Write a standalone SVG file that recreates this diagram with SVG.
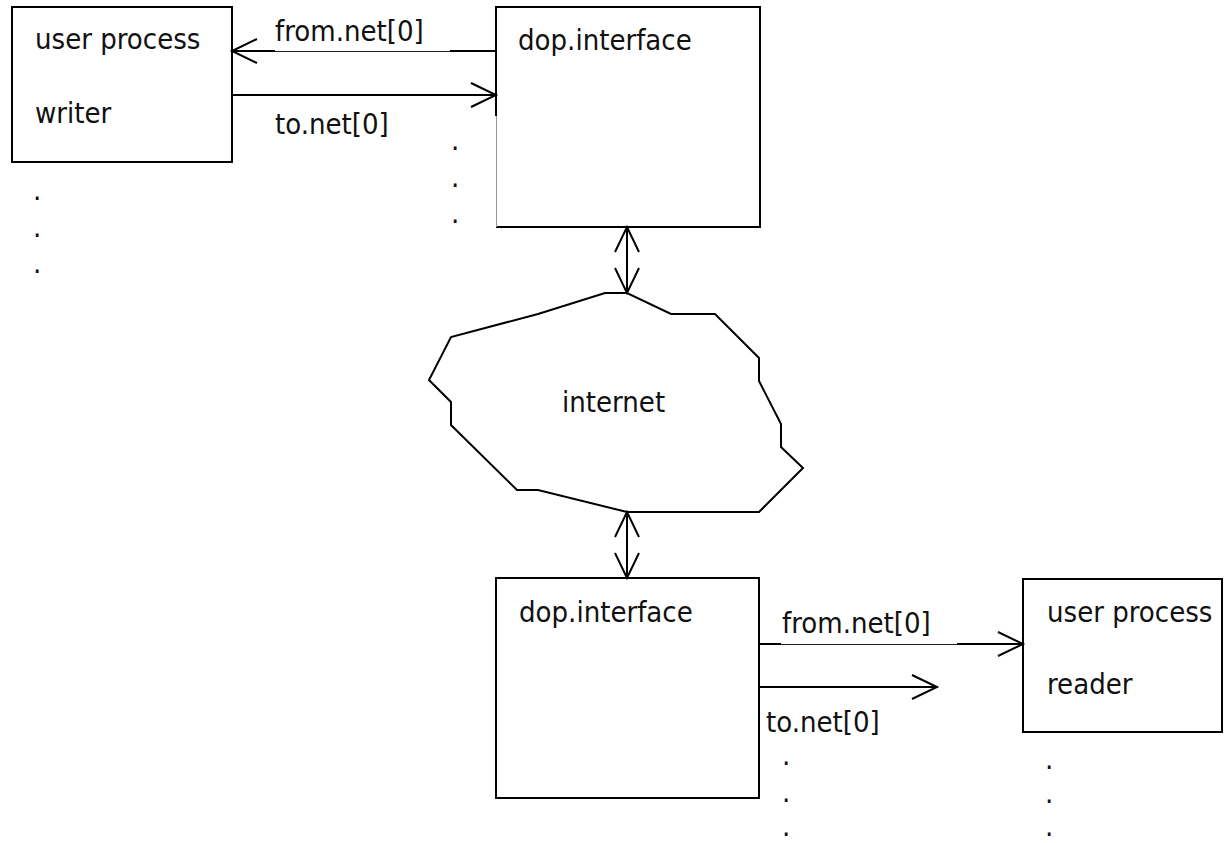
<svg xmlns="http://www.w3.org/2000/svg" width="1227" height="843" viewBox="0 0 1227 843">
<style>
text{font-family:"DejaVu Sans Condensed","DejaVu Sans",sans-serif;font-stretch:condensed;font-size:29px;fill:#111}
.box{fill:#fff;stroke:#000;stroke-width:2}
.ln{fill:none;stroke:#000;stroke-width:2}
.thin{fill:none;stroke:#222;stroke-width:1}
.dot{font-size:29px}
</style>
<rect width="1227" height="843" fill="#fff"/>
<g id="writer">
<rect class="box" x="12" y="7" width="220" height="155"/>
<text x="35" y="49">user process</text>
<text x="35" y="123">writer</text>
<text class="dot" x="33" y="200">.</text>
<text class="dot" x="33" y="237">.</text>
<text class="dot" x="33" y="273">.</text>
</g>
<g id="dop-top">
<rect x="496" y="7" width="264" height="220" fill="#fff" stroke="none"/>
<path class="ln" d="M496 116 V7 H760 V227 H496"/>
<path d="M496.5 116 V227" fill="none" stroke="#999" stroke-width="1"/>
<text x="518" y="50">dop.interface</text>
<text class="dot" x="451" y="150">.</text>
<text class="dot" x="451" y="187">.</text>
<text class="dot" x="451" y="223">.</text>
</g>
<g id="internet">
<polygon class="ln" fill="#fff" points="627,293 605,293 538,314 451,337 429,380 451,402 451,425 517,490 538,490 627,512 759,512 803,468 781,447 781,424 759,381 759,358 715,314 671,314"/>
<text x="562" y="412">internet</text>
</g>
<g id="dop-bottom">
<rect class="box" x="496" y="578" width="263" height="220"/>
<text x="519" y="622">dop.interface</text>
<text class="dot" x="782" y="765">.</text>
<text class="dot" x="782" y="802">.</text>
<text class="dot" x="782" y="836">.</text>
</g>
<g id="reader">
<rect class="box" x="1023" y="579" width="199" height="153"/>
<text x="1047" y="622">user process</text>
<text x="1047" y="694">reader</text>
<text class="dot" x="1045" y="769">.</text>
<text class="dot" x="1045" y="803">.</text>
<text class="dot" x="1045" y="836">.</text>
</g>
<g id="connectors">
<path class="ln" d="M232 51 H275 M450 51 H496"/>
<path class="thin" d="M275 51.5 H450"/>
<path class="ln" d="M257 39 L232 51 L257 63"/>
<path class="ln" d="M232 95 H496 M471 83 L496 95 L471 107"/>
<text x="275" y="41">from.net[0]</text>
<text x="275" y="134">to.net[0]</text>
<path class="ln" d="M627 227 V293 M615 252 L627 227 L639 252 M615 268 L627 293 L639 268"/>
<path class="ln" d="M627 512 V578 M615 537 L627 512 L639 537 M615 553 L627 578 L639 553"/>
<path class="ln" d="M759 644 H781 M957 644 H1023"/>
<path class="thin" d="M781 644.5 H957"/>
<path class="ln" d="M998 632 L1023 644 L998 656"/>
<text x="782" y="633">from.net[0]</text>
<path class="ln" d="M759 687 H937 M912 675 L937 687 L912 699"/>
<text x="766" y="732">to.net[0]</text>
</g>
</svg>
